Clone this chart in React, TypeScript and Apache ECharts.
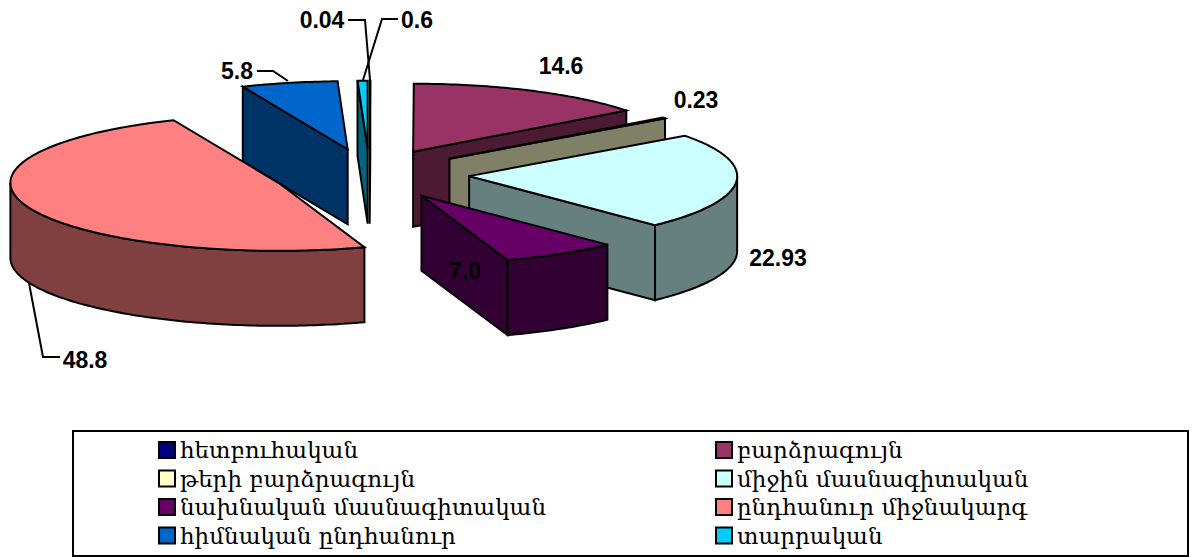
import React, { useEffect, useRef } from "react";
import * as echarts from "echarts";

// ---- data (clockwise from 12 o'clock) ----
const categories = [
  "հետբուհական",
  "բարձրագույն",
  "թերի բարձրագույն",
  "միջին մասնագիտական",
  "նախնական մասնագիտական",
  "ընդհանուր միջնակարգ",
  "հիմնական ընդհանուր",
  "տարրական",
];
const values = [0.04, 14.6, 0.23, 22.93, 7.0, 48.8, 5.8, 0.6];
const valueLabels = ["0.04", "14.6", "0.23", "22.93", "7.0", "48.8", "5.8", "0.6"];
const topColors = ["#000080", "#993366", "#FFFFCC", "#CCFFFF", "#660066", "#FF8080", "#0066CC", "#00CCFF"];
const sideColors = ["#000040", "#4D1A33", "#808066", "#668080", "#330033", "#804040", "#003366", "#006680"];

// ---- layout ----
const drawOrder = [7, 0, 6, 5, 1, 2, 3, 4];
const CX = 369.5;
const CY = 174;
const RX = 268;
const RY = 68;
const DEPTH = 75;
const explodeBy = [100, 98, 100, 100, 100, 97.5, 100, 100];
const TILT = RY / RX;
const STROKE = 2;
const total = values.reduce((a, b) => a + b, 0);
const rad = (d: number) => (d * Math.PI) / 180;

const labelBoxes: [number, number][] = [
  [322, 20], [561, 66], [696, 100], [778, 258], [465, 271], [85, 360], [237, 71], [417, 20],
];
const leaders: ([number, number][] | null)[] = [
  [[348, 20], [365, 20], [370, 80]],
  null,
  null,
  null,
  null,
  [[29, 283], [43, 357], [60, 357]],
  [[257, 71], [273, 71], [288, 81]],
  [[398, 19], [382, 19], [363, 80]],
];

function sliceFaces(index: number, offset: number) {
  const a0 = (offset / total) * 360;
  const a1 = ((offset + values[index]) / total) * 360;
  const mid = (a0 + a1) / 2;
  const e = explodeBy[index];
  const cx = CX + e * Math.sin(rad(mid));
  const cy = CY - e * TILT * Math.cos(rad(mid));
  const rim = (t: number, z: number): [number, number] => [
    cx + RX * Math.sin(rad(t)),
    cy - RY * Math.cos(rad(t)) + z,
  ];
  const arc = (from: number, to: number, z: number) => {
    const pts: [number, number][] = [];
    const n = Math.max(1, Math.ceil(Math.abs(to - from)));
    for (let i = 0; i <= n; i++) pts.push(rim(from + ((to - from) * i) / n, z));
    return pts;
  };
  const faces: any[] = [];
  const face = (points: [number, number][], fill: string) =>
    faces.push({
      type: "polygon",
      shape: { points },
      style: { fill, stroke: "#000", lineWidth: STROKE, lineJoin: "miter" },
    });
  if (Math.sin(rad(a0)) < 0) {
    face([[cx, cy], rim(a0, 0), rim(a0, DEPTH), [cx, cy + DEPTH]], sideColors[index]);
  }
  if (Math.sin(rad(a1)) > 0) {
    face([[cx, cy], rim(a1, 0), rim(a1, DEPTH), [cx, cy + DEPTH]], sideColors[index]);
  }
  const w0 = Math.max(a0, 90);
  const w1 = Math.min(a1, 270);
  if (w1 > w0) {
    face([...arc(w0, w1, 0), ...arc(w1, w0, DEPTH)], sideColors[index]);
  }
  face([[cx, cy], ...arc(a0, a1, 0)], topColors[index]);
  return faces;
}

const offsets = values.map((_, i) => values.slice(0, i).reduce((a, b) => a + b, 0));

export default function App() {
  const ref = useRef<HTMLDivElement>(null);
  useEffect(() => {
    const chart = echarts.init(ref.current!, undefined, { renderer: "svg" });
    const labelFont = { fontFamily: "Liberation Sans", fontWeight: "bold", fontSize: 23, fill: "#000" };
    const legendBase = {
      orient: "vertical",
      top: 438,
      padding: 0,
      itemWidth: 16,
      itemHeight: 16,
      itemGap: 4.5,
      icon: "rect",
      selectedMode: false,
      itemStyle: { borderColor: "#000", borderWidth: 2 },
      textStyle: { fontFamily: "DejaVu Serif", fontSize: 23, color: "#000", lineHeight: 24, padding: [0, 0, 0, 0] },
    };
    chart.setOption({
      animation: false,
      backgroundColor: "#fff",
      legend: [
        { ...legendBase, left: 158, data: categories.filter((_, i) => i % 2 === 0) },
        { ...legendBase, left: 715, data: categories.filter((_, i) => i % 2 === 1) },
      ],
      series: drawOrder.map((i) => ({
        type: "custom",
        name: categories[i],
        coordinateSystem: "none",
        silent: true,
        itemStyle: { color: topColors[i] },
        data: [[values[i]]],
        renderItem: () => ({ type: "group", children: sliceFaces(i, offsets[i]) }),
      })),
      graphic: [
        {
          type: "rect",
          z: 1,
          silent: true,
          shape: { x: 73, y: 431, width: 1115, height: 125 },
          style: { fill: "none", stroke: "#000", lineWidth: 2 },
        },
        ...leaders
          .filter((l) => l)
          .map((points) => ({
            type: "polyline",
            z: 50,
            silent: true,
            shape: { points },
            style: { fill: "none", stroke: "#000", lineWidth: 2 },
          })),
        ...valueLabels.map((text, i) => ({
          type: "text",
          z: 60,
          silent: true,
          x: labelBoxes[i][0],
          y: labelBoxes[i][1],
          style: { ...labelFont, text, align: "center", verticalAlign: "middle" },
        })),
      ],
    });
    return () => chart.dispose();
  }, []);
  return (
    <div
      ref={ref}
      style={{ position: "fixed", left: 0, top: 0, width: 1196, height: 557, background: "#fff" }}
    />
  );
}
